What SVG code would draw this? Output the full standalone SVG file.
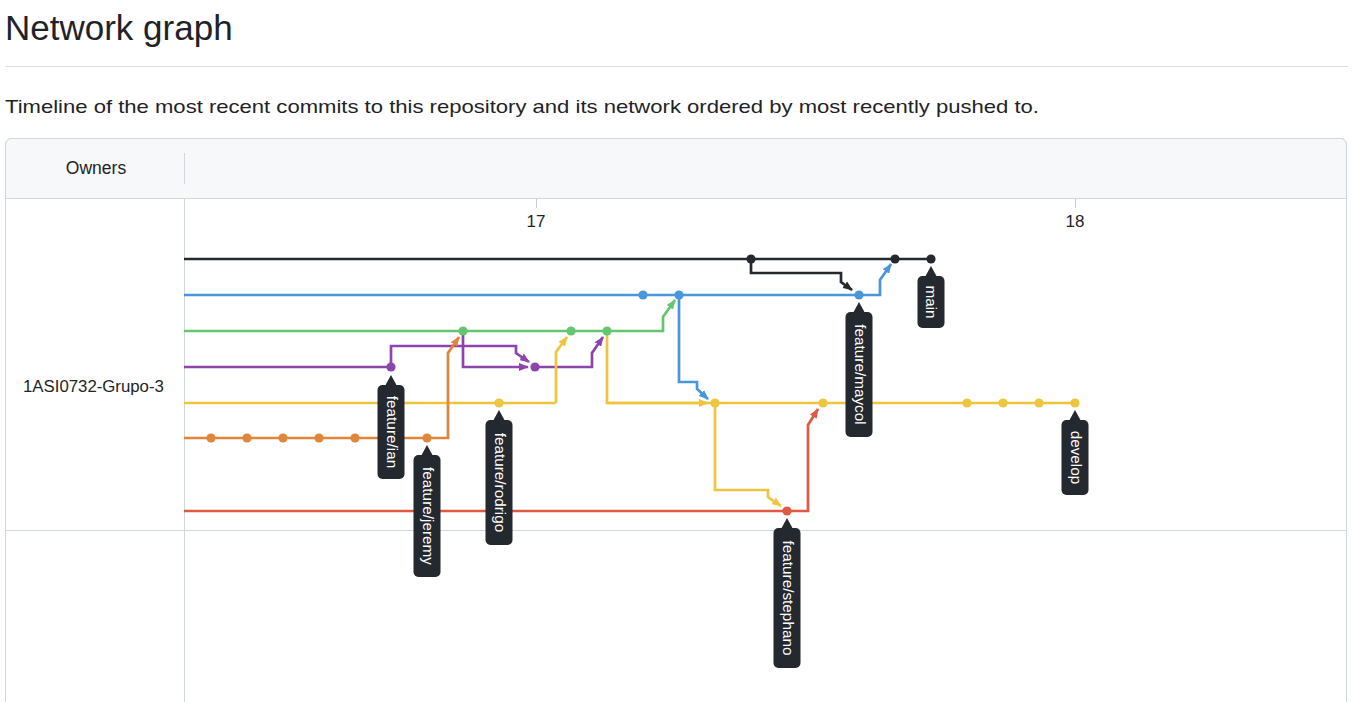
<svg xmlns="http://www.w3.org/2000/svg" width="1372" height="702" viewBox="0 0 1372 702">
<style>
.t{font-family:"Liberation Sans",Arial,sans-serif;fill:#1f2328}
.lbl{font-family:"Liberation Sans",Arial,sans-serif;fill:#ffffff;font-size:15.3px}
.ln{fill:none;stroke-width:2.7;stroke-linejoin:miter}
.k{stroke:#24292f}.b{stroke:#4a96dd}.g{stroke:#65c672}.p{stroke:#8e44ad}.y{stroke:#eec53e}.o{stroke:#e0853a}.r{stroke:#e05a43}
.dk{fill:#24292f}.db{fill:#4a96dd}.dg{fill:#65c672}.dp{fill:#8e44ad}.dy{fill:#eec53e}.do{fill:#e0853a}.dr{fill:#e05a43}
.tip{fill:#24292f}
.grid{stroke:#d0d7de;stroke-width:1;fill:none}
</style>
<defs>
<marker id="ak" viewBox="0 0 10 8" refX="9" refY="4" markerWidth="10" markerHeight="8" markerUnits="userSpaceOnUse" orient="auto"><path d="M0,0 L10,4 L0,8 z" fill="#24292f"/></marker>
<marker id="ab" viewBox="0 0 10 8" refX="9" refY="4" markerWidth="10" markerHeight="8" markerUnits="userSpaceOnUse" orient="auto"><path d="M0,0 L10,4 L0,8 z" fill="#4a96dd"/></marker>
<marker id="ag" viewBox="0 0 10 8" refX="9" refY="4" markerWidth="10" markerHeight="8" markerUnits="userSpaceOnUse" orient="auto"><path d="M0,0 L10,4 L0,8 z" fill="#65c672"/></marker>
<marker id="ap" viewBox="0 0 10 8" refX="9" refY="4" markerWidth="10" markerHeight="8" markerUnits="userSpaceOnUse" orient="auto"><path d="M0,0 L10,4 L0,8 z" fill="#8e44ad"/></marker>
<marker id="ay" viewBox="0 0 10 8" refX="9" refY="4" markerWidth="10" markerHeight="8" markerUnits="userSpaceOnUse" orient="auto"><path d="M0,0 L10,4 L0,8 z" fill="#eec53e"/></marker>
<marker id="ao" viewBox="0 0 10 8" refX="9" refY="4" markerWidth="10" markerHeight="8" markerUnits="userSpaceOnUse" orient="auto"><path d="M0,0 L10,4 L0,8 z" fill="#e0853a"/></marker>
<marker id="ar" viewBox="0 0 10 8" refX="9" refY="4" markerWidth="10" markerHeight="8" markerUnits="userSpaceOnUse" orient="auto"><path d="M0,0 L10,4 L0,8 z" fill="#e05a43"/></marker>
</defs>
<rect width="1372" height="702" fill="#ffffff"/>

<g id="page-header">
<text class="t" x="5" y="40" font-size="35">Network graph</text>
<line x1="5" y1="66.5" x2="1348" y2="66.5" stroke="#d8dee4" stroke-width="1"/>
<text class="t" x="5" y="113" font-size="18.5" textLength="1034" lengthAdjust="spacingAndGlyphs">Timeline of the most recent commits to this repository and its network ordered by most recently pushed to.</text>
</g>

<g id="frame">
<rect x="5.5" y="138.5" width="1341" height="620" rx="6" fill="#ffffff" stroke="#d0d7de"/>
<path d="M5.5,198.5 V144.5 A6,6 0 0 1 11.5,138.5 H1340.5 A6,6 0 0 1 1346.5,144.5 V198.5 Z" fill="#f6f8fa" stroke="#d0d7de"/>
<line class="grid" x1="184.5" y1="153" x2="184.5" y2="184"/>
<line class="grid" x1="184.5" y1="198" x2="184.5" y2="702"/>
<line class="grid" x1="5" y1="530.5" x2="1347" y2="530.5"/>
<text class="t" x="96" y="174" font-size="17.5" text-anchor="middle">Owners</text>
<text class="t" x="23" y="392" font-size="16.8">1ASI0732-Grupo-3</text>
<line x1="536.5" y1="199" x2="536.5" y2="208" stroke="#c8ccd1" stroke-width="1"/>
<text class="t" x="536" y="227" font-size="17" text-anchor="middle">17</text>
<line x1="1075.5" y1="199" x2="1075.5" y2="208" stroke="#c8ccd1" stroke-width="1"/>
<text class="t" x="1075" y="227" font-size="17" text-anchor="middle">18</text>
</g>

<g id="connectors">
<path class="ln k" d="M184,259 H931"/>
<path class="ln b" d="M184,295 H859"/>
<path class="ln g" d="M184,331 H607"/>
<path class="ln p" d="M184,367 H391"/>
<path class="ln y" d="M184,403 H556"/>
<path class="ln y" d="M607,403 H1075"/>
<path class="ln o" d="M184,438 H427"/>
<path class="ln r" d="M184,511 H787"/>
<path class="ln k" d="M751,259 V273 H841 V282 L852,290" marker-end="url(#ak)"/>
<path class="ln b" d="M859,295 H880 V280 L891,264" marker-end="url(#ab)"/>
<path class="ln b" d="M679,295 V382 H697 V389 L708,399" marker-end="url(#ab)"/>
<path class="ln g" d="M607,331 H663 V317 L675,300" marker-end="url(#ag)"/>
<path class="ln p" d="M391,367 V346 H516 V353 L529,362" marker-end="url(#ap)"/>
<path class="ln p" d="M463,331 V367 H528" marker-end="url(#ap)"/>
<path class="ln p" d="M535,367 H592 V353 L603,337" marker-end="url(#ap)"/>
<path class="ln y" d="M556,403 V352 L567,337" marker-end="url(#ay)"/>
<path class="ln y" d="M607,331 V403 H708" marker-end="url(#ay)"/>
<path class="ln y" d="M715,403 V490 H768 V497 L781,506" marker-end="url(#ay)"/>
<path class="ln o" d="M427,438 H448 V353 L459,337" marker-end="url(#ao)"/>
<path class="ln r" d="M787,511 H808 V425 L818,409" marker-end="url(#ar)"/>
</g>

<g id="commits">
<circle class="dk" cx="751" cy="259" r="4.6"/><circle class="dk" cx="895" cy="259" r="4.6"/><circle class="dk" cx="931" cy="259" r="4.6"/>
<circle class="db" cx="643" cy="295" r="4.6"/><circle class="db" cx="679" cy="295" r="4.6"/><circle class="db" cx="859" cy="295" r="4.6"/>
<circle class="dg" cx="463" cy="331" r="4.6"/><circle class="dg" cx="571" cy="331" r="4.6"/><circle class="dg" cx="607" cy="331" r="4.6"/>
<circle class="dp" cx="391" cy="367" r="4.6"/><circle class="dp" cx="535" cy="367" r="4.6"/>
<circle class="dy" cx="499" cy="403" r="4.6"/><circle class="dy" cx="715" cy="403" r="4.6"/><circle class="dy" cx="823" cy="403" r="4.6"/><circle class="dy" cx="967" cy="403" r="4.6"/><circle class="dy" cx="1003" cy="403" r="4.6"/><circle class="dy" cx="1039" cy="403" r="4.6"/><circle class="dy" cx="1075" cy="403" r="4.6"/>
<circle class="do" cx="211" cy="438" r="4.6"/><circle class="do" cx="247" cy="438" r="4.6"/><circle class="do" cx="283" cy="438" r="4.6"/><circle class="do" cx="319" cy="438" r="4.6"/><circle class="do" cx="355" cy="438" r="4.6"/><circle class="do" cx="427" cy="438" r="4.6"/>
<circle class="dr" cx="787" cy="511" r="4.6"/>
</g>

<g id="label-feature-ian">
<polygon class="tip" points="391,375 385,386 397,386"/>
<rect class="tip" x="377.5" y="385" width="27" height="94" rx="5"/>
<text class="lbl" text-anchor="middle" transform="translate(386.5,432) rotate(90)">feature/ian</text>
</g>
<g id="label-feature-jeremy">
<polygon class="tip" points="427,445 421,456 433,456"/>
<rect class="tip" x="413.5" y="455" width="27" height="122" rx="5"/>
<text class="lbl" text-anchor="middle" transform="translate(422.5,516) rotate(90)">feature/jeremy</text>
</g>
<g id="label-feature-rodrigo">
<polygon class="tip" points="499,410 493,421 505,421"/>
<rect class="tip" x="485.5" y="420" width="27" height="125" rx="5"/>
<text class="lbl" text-anchor="middle" transform="translate(494.5,482.5) rotate(90)">feature/rodrigo</text>
</g>
<g id="label-feature-maycol">
<polygon class="tip" points="859,302 853,313 865,313"/>
<rect class="tip" x="845.5" y="312" width="27" height="125" rx="5"/>
<text class="lbl" text-anchor="middle" transform="translate(854.5,374.5) rotate(90)">feature/maycol</text>
</g>
<g id="label-main">
<polygon class="tip" points="931,266 925,277 937,277"/>
<rect class="tip" x="917.5" y="276" width="27" height="52" rx="5"/>
<text class="lbl" text-anchor="middle" transform="translate(926,302) rotate(90)">main</text>
</g>
<g id="label-feature-stephano">
<polygon class="tip" points="787,518 781,529 793,529"/>
<rect class="tip" x="773.5" y="528" width="27" height="140" rx="5"/>
<text class="lbl" text-anchor="middle" transform="translate(782.5,598) rotate(90)">feature/stephano</text>
</g>
<g id="label-develop">
<polygon class="tip" points="1075,410 1069,421 1081,421"/>
<rect class="tip" x="1061.5" y="420" width="27" height="75" rx="5"/>
<text class="lbl" text-anchor="middle" transform="translate(1070.5,457.5) rotate(90)">develop</text>
</g>
</svg>
